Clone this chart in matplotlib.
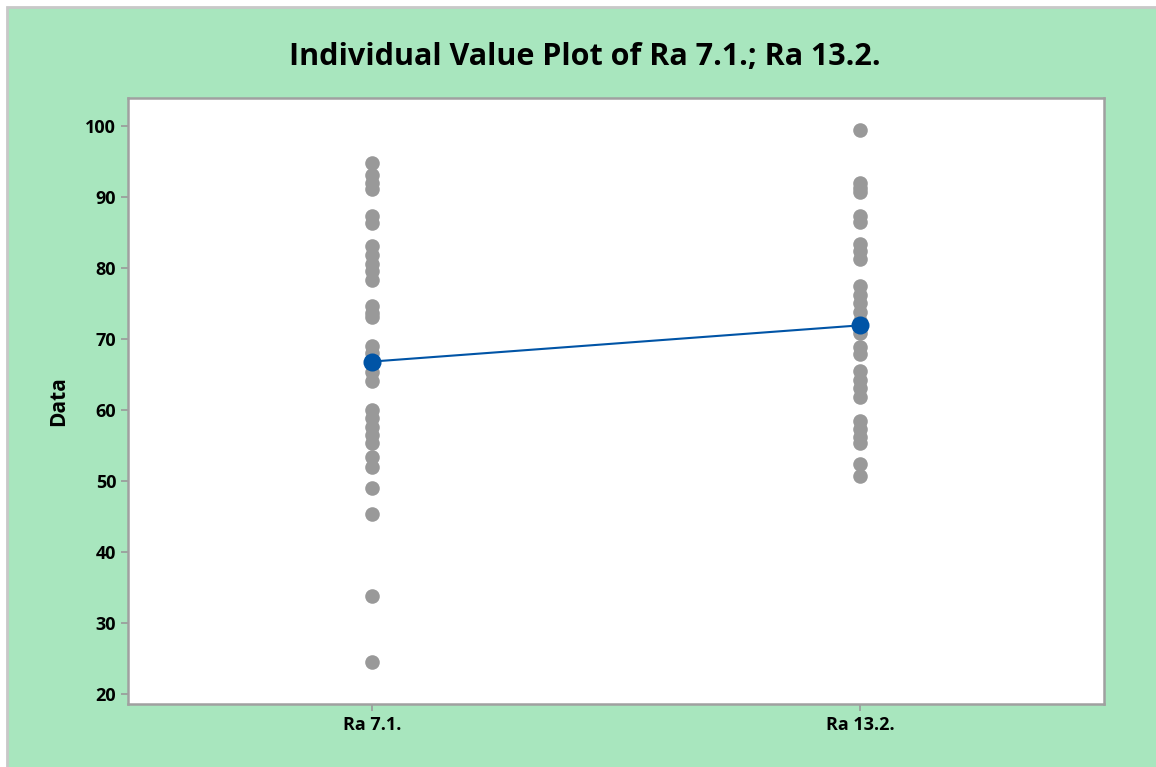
import matplotlib
matplotlib.use("Agg")
import matplotlib.pyplot as plt
from matplotlib.patches import Rectangle

categories = ["Ra 7.1.", "Ra 13.2."]
ra_7_1 = [94.7, 93.1, 92.0, 91.1, 87.3, 86.3, 83.1, 81.8, 80.6, 79.5, 78.3,
          74.6, 73.6, 73.1, 69.0, 68.0, 66.5, 65.4, 64.0, 60.0, 58.8, 57.6,
          56.5, 55.3, 53.3, 52.0, 49.0, 45.4, 33.8, 24.5]
ra_13_2 = [99.4, 92.0, 91.3, 90.7, 87.3, 86.5, 83.3, 82.3, 81.2, 77.4, 76.2,
           75.0, 73.8, 72.5, 71.5, 70.8, 68.9, 67.8, 65.5, 64.2, 63.1, 61.8,
           58.5, 57.3, 56.2, 55.4, 52.4, 50.7]
means = [66.8, 71.9]
yticks = [20, 30, 40, 50, 60, 70, 80, 90, 100]

plt.rcParams['font.family'] = ['Open Sans', 'DejaVu Sans']

W, H = 1156, 767
fig = plt.figure(figsize=(W / 100, H / 100), dpi=100, facecolor='white')
bg = Rectangle((7 / W, -0.05), 1.05, 1 - 7 / H + 0.05, transform=fig.transFigure,
               facecolor='#A8E6BE', edgecolor='#C8C8C8', linewidth=2, zorder=-10)
fig.patches.append(bg)

ax = fig.add_axes([128 / W, 1 - 704 / H, (1104 - 128) / W, (704 - 98) / H])
ax.set_facecolor('white')

gray = '#999999'
for i, vals in enumerate([ra_7_1, ra_13_2]):
    ax.plot([i + 1] * len(vals), vals, 'o', color=gray, markersize=10.5,
            markeredgewidth=0, zorder=2)
ax.plot([1, 2], means, '-', color='#0054A6', linewidth=1.5, zorder=3)
ax.plot([1, 2], means, 'o', color='#0054A6', markersize=13,
        markeredgewidth=0, zorder=4)

ax.set_xlim(0.5, 2.5)
ax.set_ylim(18.6, 103.9)
ax.set_xticks([1, 2])
ax.set_xticklabels(categories)
ax.set_yticks(yticks)
ax.tick_params(axis='both', colors='#999999', labelcolor='black', length=5,
               width=1.2, labelsize=13)
for lab in ax.get_xticklabels() + ax.get_yticklabels():
    lab.set_fontweight('bold')
for s in ax.spines.values():
    s.set_color('#A0A0A0')
    s.set_linewidth(1.8)

ax.set_ylabel('Data', fontsize=15, fontweight='bold', labelpad=12)
fig.text(585 / W, 1 - 57 / H, 'Individual Value Plot of Ra 7.1.; Ra 13.2.',
         ha='center', va='center', fontsize=22, fontweight='bold')

fig.savefig('out.png', dpi=100, facecolor=fig.get_facecolor())
